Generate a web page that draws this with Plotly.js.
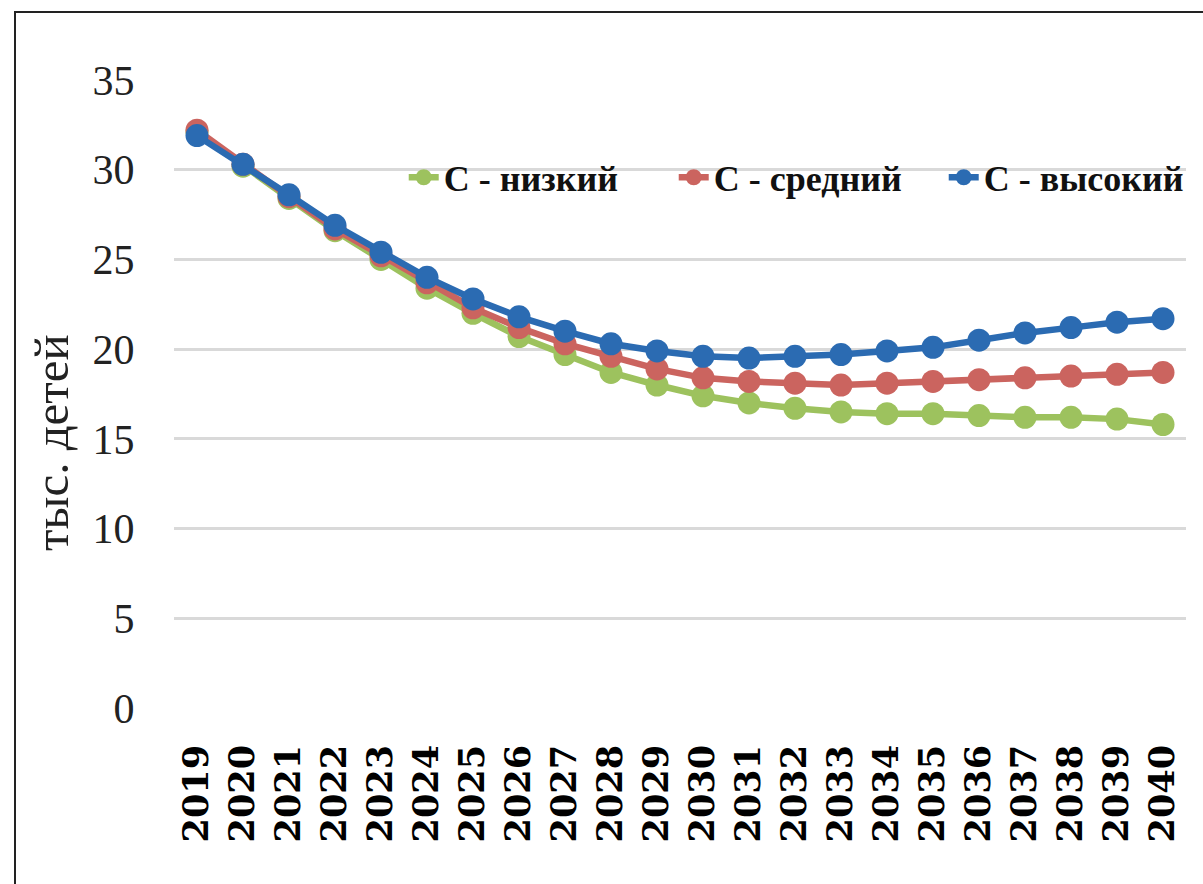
<!DOCTYPE html>
<html>
<head>
<meta charset="utf-8">
<script src="https://cdn.plot.ly/plotly-3.0.1.min.js"></script>
<style>
  html, body { margin: 0; padding: 0; background: #fff; }
  #wrap { position: relative; width: 1203px; height: 884px; overflow: hidden; }
  #chart { position: absolute; left: 0; top: 0; width: 1203px; height: 884px; }
  #frame { position: absolute; left: 14px; top: 11px; width: 1300px; height: 1000px;
           border-left: 2px solid #222; border-top: 2px solid #222; pointer-events: none; }
</style>
</head>
<body>
<div id="wrap">
  <div id="chart"></div>
  <div id="frame"></div>
</div>
<script>
const years = ["2019","2020","2021","2022","2023","2024","2025","2026","2027","2028","2029",
               "2030","2031","2032","2033","2034","2035","2036","2037","2038","2039","2040"];
const lowValues  = [32.1, 30.2, 28.4, 26.6, 25.0, 23.4, 22.0, 20.7, 19.7, 18.7, 18.0,
                    17.4, 17.0, 16.7, 16.5, 16.4, 16.4, 16.3, 16.2, 16.2, 16.1, 15.8];
const midValues  = [32.2, 30.3, 28.5, 26.7, 25.2, 23.7, 22.3, 21.2, 20.3, 19.6, 18.9,
                    18.4, 18.2, 18.1, 18.0, 18.1, 18.2, 18.3, 18.4, 18.5, 18.6, 18.7];
const highValues = [31.9, 30.3, 28.6, 26.9, 25.4, 24.0, 22.8, 21.8, 21.0, 20.3, 19.9,
                    19.6, 19.5, 19.6, 19.7, 19.9, 20.1, 20.5, 20.9, 21.2, 21.5, 21.7];
const seriesNames = ["С - низкий", "С - средний", "С - высокий"];
const yTitle = "тыс. детей";
const yTicks = [0, 5, 10, 15, 20, 25, 30, 35];

const colors = ["#9dc25e", "#cb645f", "#2b6bb2"];
const allValues = [lowValues, midValues, highValues];

const traces = allValues.map((vals, i) => ({
  type: "scatter",
  mode: "lines+markers",
  x: years,
  y: vals,
  name: seriesNames[i],
  line: { color: colors[i], width: 6.5 },
  marker: { color: colors[i], size: 23 }
}));

const layout = {
  width: 1203,
  height: 884,
  margin: { l: 174, r: 17, t: 80, b: 176, autoexpand: false },
  paper_bgcolor: "#ffffff",
  plot_bgcolor: "#ffffff",
  showlegend: true,
  legend: {
    orientation: "h",
    x: 0.227, xanchor: "left",
    y: 0.845, yanchor: "middle",
    font: { family: "Liberation Serif", size: 36, color: "#111", weight: "bold" },
    bgcolor: "rgba(255,255,255,0)",
    entrywidth: 225,
    traceorder: "normal"
  },
  xaxis: {
    type: "category",
    automargin: false,
    range: [-0.5, years.length - 0.5],
    tickmode: "array",
    tickvals: years,
    ticktext: years,
    tickangle: -90,
    tickfont: { family: "DejaVu Serif", size: 35, color: "#000", weight: "bold" },
    showgrid: false,
    zeroline: false,
    showline: false,
    ticks: "outside",
    ticklen: 22,
    tickcolor: "rgba(0,0,0,0)",
    fixedrange: true
  },
  yaxis: {
    automargin: false,
    range: [0, 35],
    tickvals: yTicks,
    tickfont: { family: "Liberation Serif", size: 42, color: "#222" },
    showgrid: true,
    gridcolor: "#d9d9d9",
    gridwidth: 3,
    zeroline: false,
    showline: false,
    ticks: "outside",
    ticklen: 30,
    tickcolor: "rgba(0,0,0,0)",
    fixedrange: true
  },
  annotations: [{
    text: yTitle,
    xref: "paper", yref: "paper",
    x: -0.1206, y: 0.4236,
    xanchor: "center", yanchor: "middle",
    textangle: -90,
    showarrow: false,
    font: { family: "Liberation Serif", size: 49, color: "#222" }
  }]
};

Plotly.newPlot("chart", traces, layout, { displayModeBar: false, staticPlot: true });
</script>
</body>
</html>
